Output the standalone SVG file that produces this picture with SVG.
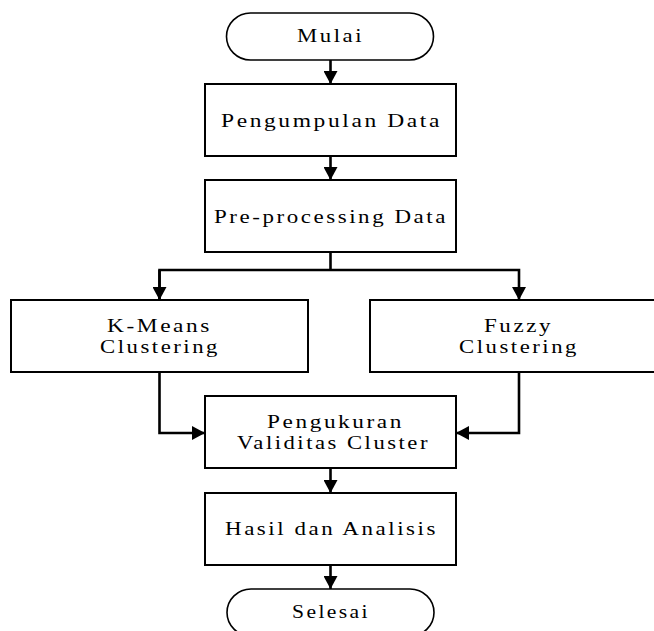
<svg xmlns="http://www.w3.org/2000/svg" width="654" height="631" viewBox="0 0 654 631">
<style>
.box{fill:#ffffff;stroke:#000;stroke-width:2}
.term{fill:#ffffff;stroke:#000;stroke-width:1.6}
.lbl{font-family:"Liberation Serif","Times New Roman",serif;font-size:18px;letter-spacing:2px;fill:#000}
.con{fill:none;stroke:#000;stroke-width:2.6}
</style>
<defs>
<marker id="ah" markerUnits="userSpaceOnUse" markerWidth="16" markerHeight="14" refX="13" refY="7" orient="auto">
<path d="M0,0 L13,7 L0,14 Z" fill="#000"/>
</marker>
</defs>
<rect width="654" height="631" fill="#ffffff"/>
<g id="connectors">
<line class="con" x1="330.5" y1="60" x2="330.5" y2="84" marker-end="url(#ah)"/>
<line class="con" x1="330.5" y1="156" x2="330.5" y2="180" marker-end="url(#ah)"/>
<line class="con" x1="330.5" y1="252" x2="330.5" y2="270"/>
<polyline class="con" points="159.5,300 159.5,270 519,270 519,300" marker-end="url(#ah)"/>
<line class="con" x1="159.5" y1="270" x2="159.5" y2="300" marker-end="url(#ah)"/>
<polyline class="con" points="159.5,372 159.5,433 205,433" marker-end="url(#ah)"/>
<polyline class="con" points="519,372 519,433 456,433" marker-end="url(#ah)"/>
<line class="con" x1="330.5" y1="468" x2="330.5" y2="493" marker-end="url(#ah)"/>
<line class="con" x1="330.5" y1="565" x2="330.5" y2="589" marker-end="url(#ah)"/>
</g>
<g id="mulai">
<rect class="term" x="226.5" y="13" width="207" height="47" rx="24" ry="23.5"/>
<text class="lbl" x="297" y="42" textLength="67" lengthAdjust="spacingAndGlyphs">Mulai</text>
</g>
<g id="pengumpulan">
<rect class="box" x="205" y="84" width="251" height="72"/>
<text class="lbl" x="221" y="127" textLength="221" lengthAdjust="spacingAndGlyphs">Pengumpulan Data</text>
</g>
<g id="preprocessing">
<rect class="box" x="205" y="180" width="251" height="72"/>
<text class="lbl" x="214" y="223" textLength="234" lengthAdjust="spacingAndGlyphs">Pre-processing Data</text>
</g>
<g id="kmeans">
<rect class="box" x="11" y="300" width="297" height="72"/>
<text class="lbl" x="107" y="332" textLength="105" lengthAdjust="spacingAndGlyphs">K-Means</text>
<text class="lbl" x="100" y="353" textLength="120" lengthAdjust="spacingAndGlyphs">Clustering</text>
</g>
<g id="fuzzy">
<rect class="box" x="370" y="300" width="298" height="72"/>
<text class="lbl" x="484" y="332" textLength="69" lengthAdjust="spacingAndGlyphs">Fuzzy</text>
<text class="lbl" x="459" y="353" textLength="120" lengthAdjust="spacingAndGlyphs">Clustering</text>
</g>
<g id="pengukuran">
<rect class="box" x="205" y="396" width="251" height="72"/>
<text class="lbl" x="267" y="428" textLength="137" lengthAdjust="spacingAndGlyphs">Pengukuran</text>
<text class="lbl" x="237" y="449" textLength="193" lengthAdjust="spacingAndGlyphs">Validitas Cluster</text>
</g>
<g id="hasil">
<rect class="box" x="205" y="493" width="251" height="72"/>
<text class="lbl" x="225" y="535" textLength="213" lengthAdjust="spacingAndGlyphs">Hasil dan Analisis</text>
</g>
<g id="selesai">
<rect class="term" x="227" y="589" width="207" height="47" rx="24" ry="23.5"/>
<text class="lbl" x="292" y="618" textLength="78" lengthAdjust="spacingAndGlyphs">Selesai</text>
</g>
</svg>
